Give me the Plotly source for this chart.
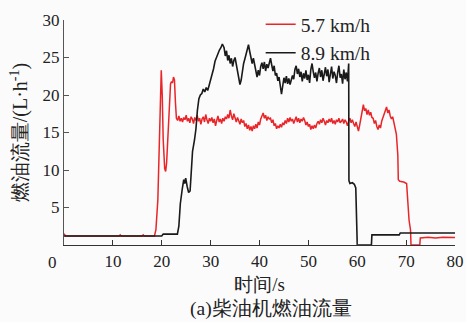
import plotly.graph_objects as go

# ---------------- data: 5.7 km/h (red) ----------------
red_t_head = [0, 0.3, 11.3, 11.5, 11.7, 16.0, 16.2, 16.4, 18.5, 18.8, 19.2, 19.5, 19.7, 19.9,
              20.1, 20.3, 20.6, 20.8, 21.0, 21.3, 21.6, 21.8, 22.0, 22.2, 22.4, 22.6, 22.8, 23.0]
red_v_head = [1.5, 1.2, 1.2, 1.35, 1.2, 1.2, 1.35, 1.2, 1.2, 2.0, 6.0, 13.0, 18.0, 23.3,
              20.0, 14.0, 10.2, 9.8, 11.0, 14.5, 18.5, 21.5, 21.8, 21.6, 22.4, 22.0, 19.0, 16.9]
red_body_start = 23.25
red_body_step = 0.25
red_v_body = [
    16.6, 17.2, 16.5, 16.9,
    16.4, 17.0, 16.7, 17.3,
    16.5, 16.9, 16.3, 17.1,
    16.8, 16.2, 17.0, 16.6,
    17.3, 16.5, 16.9, 16.1,
    16.8, 17.1, 16.4, 17.4,
    16.7, 16.2, 16.9, 16.5,
    17.0, 16.3, 16.8, 15.9,
    16.6, 17.2, 16.4, 16.8,
    16.2, 16.9, 16.5, 17.1,
    16.8, 17.4, 16.9, 18.0,
    17.2, 16.7, 17.5, 16.9,
    16.4, 17.0, 16.6, 16.1,
    16.8, 16.3, 16.6, 15.8,
    16.2, 15.5, 16.0, 15.3,
    15.8, 15.2, 15.9, 15.5,
    16.1, 15.6, 16.4, 16.0,
    16.8, 17.2, 17.6, 16.9,
    17.3, 16.6, 17.1, 16.8,
    16.9, 16.3, 16.7, 15.9,
    16.2, 15.5, 15.9, 15.6,
    16.1, 15.7, 16.3, 16.0,
    16.6, 16.2, 16.9, 16.4,
    17.0, 16.5, 16.8, 16.2,
    16.7, 17.1, 16.4, 16.9,
    16.3, 16.8, 16.5, 17.0,
    16.6, 16.0, 16.4, 15.8,
    16.1, 15.4, 15.9, 15.5,
    16.0, 15.6, 16.2, 16.5,
    16.1, 16.7, 16.3, 16.9,
    16.5, 16.0, 16.6, 16.3,
    16.8, 16.4, 16.9, 16.2,
    16.6, 16.1, 16.7, 16.4,
    16.9, 16.3, 16.5, 16.8,
    16.2, 16.7, 16.4, 15.9,
    16.5, 16.9, 16.3, 16.7,
    16.2, 15.8, 16.4, 15.6,
    15.2, 16.0, 16.8, 17.6,
    18.7, 17.9, 18.2, 17.4,
    18.0, 17.3, 17.7, 17.0,
    16.9, 16.2, 16.6, 15.8,
    15.4, 16.0, 15.6, 16.5,
    17.0, 17.6, 17.9, 18.4,
    17.6, 18.0, 17.2, 16.8,
    17.1, 16.4, 15.6, 14.8,
]
red_t_tail = [68.3, 68.4, 68.7, 69.5, 70.1, 70.3, 70.6, 70.9, 71.0, 72.8, 72.9, 74.5, 76.0, 77.5, 80]
red_v_tail = [12.0, 8.7, 8.5, 8.4, 8.2, 6.0, 3.3, 2.0, 0.0, 0.0, 0.95, 1.05, 0.95, 1.05, 1.0]

# ---------------- data: 8.9 km/h (black) ----------------
black_t_head = [0, 20.0, 20.3, 23.2, 23.5, 23.8, 24.2, 24.5, 24.7, 24.9, 25.2, 25.5, 25.8, 26.0,
                26.3, 26.7, 27.0, 27.3, 27.6, 27.9, 28.2, 28.5, 28.8, 29.1, 29.4, 29.7, 30.0,
                30.3, 30.6, 30.9, 31.2, 31.5, 31.8, 32.1, 32.4]
black_v_head = [1.2, 1.2, 1.45, 1.45, 2.5, 5.5, 7.5, 8.7, 8.2, 8.9, 7.8, 7.0, 7.2, 10.0,
                12.5, 14.0, 15.5, 18.0, 19.5, 20.0, 20.2, 20.8, 20.4, 21.0, 20.6, 21.3, 22.0,
                22.8, 23.5, 24.5, 25.1, 25.6, 26.0, 26.3, 26.8]
black_body_start = 32.75
black_body_step = 0.25
black_v_body = [
    26.3, 25.2, 25.9, 24.6,
    25.3, 24.2, 24.9, 23.8,
    24.6, 25.0, 24.1, 23.2,
    22.4, 21.4, 22.0, 23.3,
    24.2, 24.8, 25.6, 26.2,
    26.7, 25.8, 25.0, 24.2,
    24.9, 23.9, 23.0, 22.4,
    23.3, 22.6, 23.8, 24.3,
    23.5, 24.4, 23.2, 24.1,
    23.6, 24.5, 24.9, 24.0,
    23.2, 23.9, 22.6, 22.9,
    21.9, 22.4, 20.8, 20.1,
    21.2, 22.3, 21.6, 22.5,
    21.5, 22.2, 21.4, 22.0,
    22.6, 22.1, 23.4, 23.9,
    22.8, 23.5, 22.4, 23.1,
    21.8, 22.9, 22.2, 23.3,
    22.0, 22.7, 21.6, 23.4,
    24.2, 23.1, 22.3, 23.0,
    21.8, 22.9, 23.6, 22.4,
    23.3, 21.9, 22.8, 23.7,
    22.5, 23.4, 21.7, 22.9,
    23.8, 22.2, 23.1, 22.6,
    21.6, 23.0, 23.9, 22.3,
    22.8, 21.5, 23.4, 22.1,
    23.0, 21.8, 24.2,
]
black_t_tail = [58.3, 58.5, 59.0, 59.4, 59.7, 59.9, 60.0, 62.9, 63.0, 68.6, 68.8, 80]
black_v_tail = [8.6, 8.2, 8.3, 8.1, 7.6, 1.0, 0.0, 0.0, 1.35, 1.35, 1.6, 1.6]

series_names = ["5.7 km/h", "8.9 km/h"]
x_ticks = [10, 20, 30, 40, 50, 60, 70, 80]
y_ticks = [5, 10, 15, 20, 25, 30]


def build(t_head, v_head, start, step, v_body, t_tail, v_tail):
    t_body = [start + i * step for i in range(len(v_body))]
    return t_head + t_body + t_tail, v_head + v_body + v_tail


red_t, red_v = build(red_t_head, red_v_head, red_body_start, red_body_step,
                     red_v_body, red_t_tail, red_v_tail)
black_t, black_v = build(black_t_head, black_v_head, black_body_start, black_body_step,
                         black_v_body, black_t_tail, black_v_tail)

SERIF = "Liberation Serif, Times New Roman, Times, DejaVu Serif, serif"

fig = go.Figure()
fig.add_trace(go.Scatter(x=red_t, y=red_v, mode="lines", name=series_names[0],
                         line=dict(color="#e8262a", width=1.5)))
fig.add_trace(go.Scatter(x=black_t, y=black_v, mode="lines", name=series_names[1],
                         line=dict(color="#1a1a1a", width=1.6)))

fig.update_layout(
    width=466, height=322,
    margin=dict(l=64, r=11, t=20, b=77, autoexpand=False),
    paper_bgcolor="#fbfbfb", plot_bgcolor="#fbfbfb",
    font=dict(family=SERIF, size=17, color="#222"),
    showlegend=True,
    legend=dict(x=0.503, y=1.066, xanchor="left", yanchor="top",
                bgcolor="rgba(0,0,0,0)", font=dict(family=SERIF, size=19.5, color="#222"),
                tracegroupgap=0, itemwidth=30),
)
fig.update_xaxes(range=[0, 80], tickvals=x_ticks, ticks="inside", ticklen=5,
                 tickcolor="#333", showline=True, linecolor="#333", linewidth=1.2,
                 showgrid=False, zeroline=False, mirror=False, automargin=False,
                 tickfont=dict(family=SERIF, size=17),
                 title=dict(text="时间/s", font=dict(family=SERIF, size=19), standoff=8))
fig.update_yaxes(range=[0, 30], tickvals=y_ticks, ticks="inside", ticklen=5,
                 tickcolor="#555", showline=True, linecolor="#555", linewidth=1.2,
                 showgrid=False, zeroline=False, mirror=False, automargin=False,
                 tickfont=dict(family=SERIF, size=17),
                 title=dict(text="燃油流量/(L·h<sup>-1</sup>)", font=dict(family=SERIF, size=20),
                            standoff=9))
fig.add_annotation(x=0, y=0, xref="x", yref="y", text="0", showarrow=False,
                   xanchor="center", yanchor="top", xshift=-12, yshift=-6,
                   font=dict(family=SERIF, size=17, color="#222"))
fig.add_annotation(x=0.53, y=-0.284, xref="paper", yref="paper", text="(a)柴油机燃油流量",
                   showarrow=False, xanchor="center", yanchor="middle",
                   font=dict(family=SERIF, size=19.5, color="#222"))

fig.write_html("out.html", config={"displayModeBar": False},
               post_script="document.body.style.margin='0';document.body.style.padding='0';")
